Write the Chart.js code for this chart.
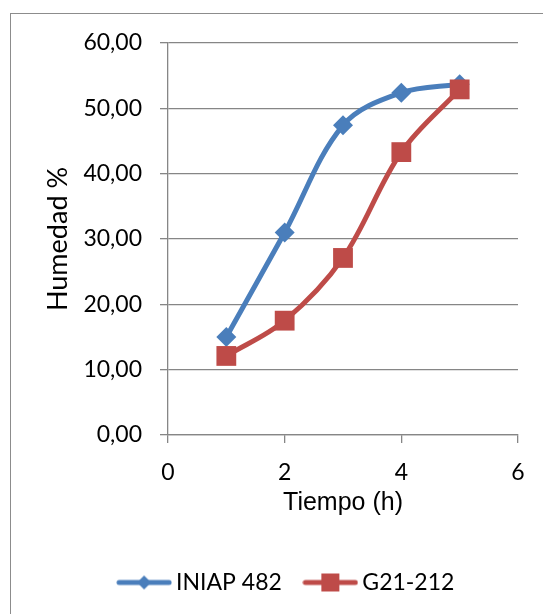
<!DOCTYPE html>
<html>
<head>
<meta charset="utf-8">
<script src="https://cdn.jsdelivr.net/npm/chart.js@4.4.0/dist/chart.umd.min.js"></script>
<style>
  html, body { margin: 0; padding: 0; background: #fff; overflow: hidden; }
  #frame { position: absolute; left: 10px; top: 13px; width: 700px; height: 800px; border: 1px solid #8c8c8c; }
  #chart { position: absolute; left: 0; top: 0; }
</style>
</head>
<body>
<div id="frame"></div>
<canvas id="chart" width="543" height="614"></canvas>
<script>
const tiempo = [1, 2, 3, 4, 5];
const iniap482 = [15.0, 31.0, 47.4, 52.4, 53.7];
const g21212 = [12.1, 17.5, 27.1, 43.3, 52.9];
const seriesNames = ['INIAP 482', 'G21-212'];
const xTicks = [0, 2, 4, 6];
const yTicks = [0, 10, 20, 30, 40, 50, 60];

const BLUE = '#4a7ebb';
const RED = '#be4b48';
const GRID = '#868686';
const CAL = 'Lato, "Open Sans", sans-serif';

// legend swatch: line with the marker in the middle, like Excel
function swatch(color, marker) {
    const c = document.createElement('canvas');
    c.width = 56; c.height = 22;
    const g = c.getContext('2d');
    g.strokeStyle = color; g.lineWidth = 5; g.lineCap = 'round';
    g.beginPath(); g.moveTo(3, 11); g.lineTo(53, 11); g.stroke();
    g.fillStyle = color;
    if (marker === 'diamond') {
        g.beginPath(); g.moveTo(28, 4); g.lineTo(35, 11); g.lineTo(28, 18); g.lineTo(21, 11);
        g.closePath(); g.fill();
    } else {
        g.fillRect(19, 2, 18, 18);
    }
    return c;
}
const swatches = [swatch(BLUE, 'diamond'), swatch(RED, 'square')];

// Excel puts the legend a bit right of the canvas centre
const LEGEND_DX = 25;
const LEGEND_DY = -10;
const nudgeLegend = {
    id: 'nudgeLegend',
    afterLayout(chart) {
        const lg = chart.legend;
        lg.left += LEGEND_DX; lg.right += LEGEND_DX;
        lg.top += LEGEND_DY; lg.bottom += LEGEND_DY;
    }
};

const toPts = ys => tiempo.map((x, i) => ({ x: x, y: ys[i] }));

new Chart(document.getElementById('chart'), {
    type: 'scatter',
    data: {
        datasets: [
            {
                label: seriesNames[0],
                data: toPts(iniap482),
                showLine: true,
                borderColor: BLUE,
                backgroundColor: BLUE,
                borderWidth: 5,
                tension: 0.35,
                pointStyle: 'rectRot',
                pointRadius: 10,
                pointBorderWidth: 0,
                order: 1
            },
            {
                label: seriesNames[1],
                data: toPts(g21212),
                showLine: true,
                borderColor: RED,
                backgroundColor: RED,
                borderWidth: 5,
                tension: 0.35,
                pointStyle: 'rect',
                pointRadius: 14,
                pointBorderWidth: 0,
                order: 0
            }
        ]
    },
    options: {
        responsive: false,
        animation: false,
        layout: { padding: { left: 10, right: 25, top: 43, bottom: 0 } },
        scales: {
            x: {
                type: 'linear',
                min: 0, max: 6,
                afterBuildTicks: s => { s.ticks = xTicks.map(v => ({ value: v })); },
                afterFit: s => { s.height = 118; },
                grid: { drawOnChartArea: false, color: GRID, lineWidth: 1.3, tickLength: 8 },
                border: { color: GRID, width: 1.3 },
                ticks: { color: '#000', font: { family: CAL, size: 23 }, padding: 16, maxRotation: 0 },
                title: {
                    display: true, text: 'Tiempo (h)', color: '#000',
                    font: { family: '"Liberation Sans", Arial, sans-serif', size: 25 },
                    padding: { top: 0, bottom: 35 }
                }
            },
            y: {
                min: 0, max: 60,
                afterBuildTicks: s => { s.ticks = yTicks.map(v => ({ value: v })); },
                afterFit: s => { s.width = 158; },
                grid: { color: GRID, lineWidth: 1.3, tickLength: 8 },
                border: { color: GRID, width: 1.3 },
                ticks: {
                    color: '#000', font: { family: CAL, size: 23 }, padding: 18,
                    callback: v => v.toFixed(2).replace('.', ',')
                },
                title: {
                    display: true, text: 'Humedad %', color: '#000',
                    font: { family: CAL, size: 27 },
                    padding: { top: 32, bottom: 0 }
                }
            }
        },
        plugins: {
            tooltip: { enabled: false },
            legend: {
                position: 'bottom',
                labels: {
                    usePointStyle: true,
                    pointStyleWidth: 41,
                    padding: 28,
                    color: '#000',
                    font: { family: CAL, size: 23 },
                    sort: (a, b) => a.datasetIndex - b.datasetIndex,
                    generateLabels: chart => Chart.defaults.plugins.legend.labels.generateLabels(chart)
                        .map(item => Object.assign(item, { pointStyle: swatches[item.datasetIndex] }))
                }
            }
        }
    },
    plugins: [nudgeLegend]
});
</script>
</body>
</html>
